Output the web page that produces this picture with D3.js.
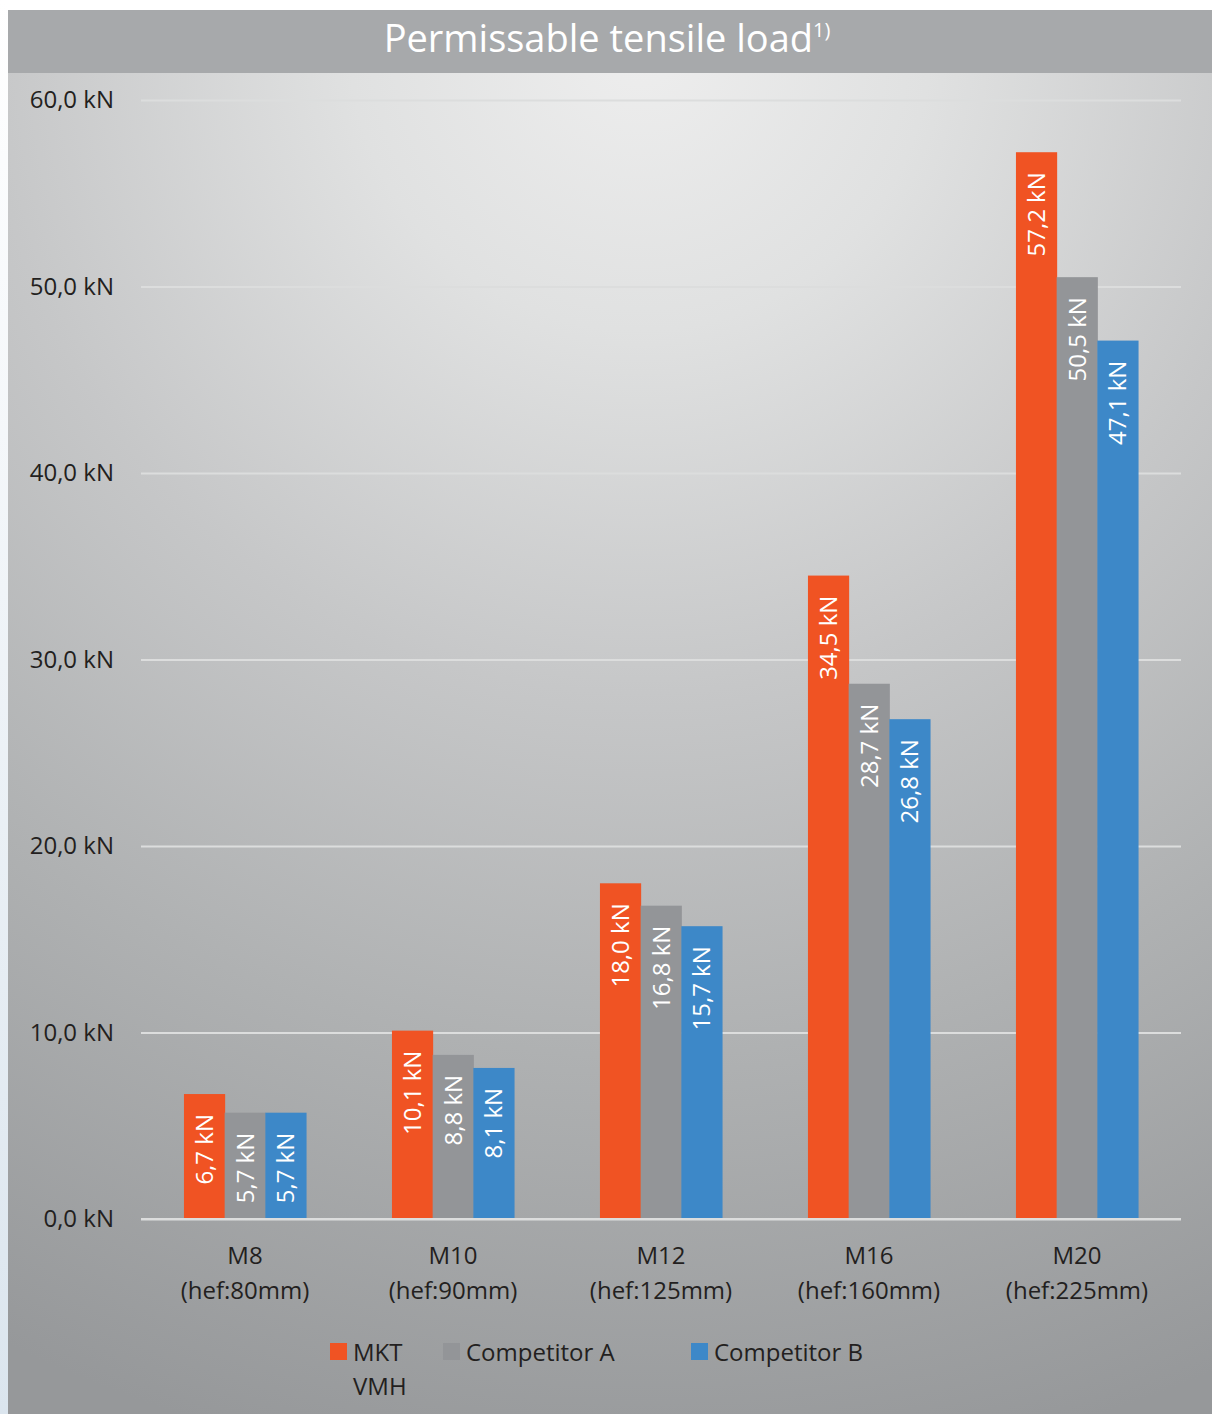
<!DOCTYPE html>
<html>
<head>
<meta charset="utf-8">
<script src="https://cdn.jsdelivr.net/npm/d3@7"></script>
<style>
  body { margin: 0; background: #fff; }
  svg { display: block; font-family: "Open Sans", "Noto Sans", sans-serif; }
</style>
</head>
<body>
<div id="chart"></div>
<script>
// data
const categories = ["M8", "M10", "M12", "M16", "M20"];
const subLabels = ["(hef:80mm)", "(hef:90mm)", "(hef:125mm)", "(hef:160mm)", "(hef:225mm)"];
const seriesNames = ["MKT VMH", "Competitor A", "Competitor B"];
const mktValues = [6.7, 10.1, 18.0, 34.5, 57.2];
const compAValues = [5.7, 8.8, 16.8, 28.7, 50.5];
const compBValues = [5.7, 8.1, 15.7, 26.8, 47.1];
const yTicks = [0, 10, 20, 30, 40, 50, 60];

const colors = ["#f05323", "#939598", "#3d88c8"];
const series = [mktValues, compAValues, compBValues];

const width = 1212, height = 1414;
const plot = { left: 141, right: 1181, top: 100, bottom: 1219 };

// decimal comma
const locale = d3.formatLocale({ decimal: ",", thousands: ".", grouping: [3], currency: ["", " €"] });
const fmt = v => locale.format(".1f")(v) + " kN";

const svg = d3.select("#chart").append("svg")
    .attr("width", width)
    .attr("height", height);

const defs = svg.append("defs");
const bg = defs.append("radialGradient")
    .attr("id", "bg")
    .attr("gradientUnits", "userSpaceOnUse")
    .attr("cx", 640).attr("cy", 40).attr("r", 1450);
bg.append("stop").attr("offset", 0).attr("stop-color", "#eeeeee");
bg.append("stop").attr("offset", 0.2).attr("stop-color", "#e0e1e1");
bg.append("stop").attr("offset", 0.45).attr("stop-color", "#c6c7c8");
bg.append("stop").attr("offset", 0.7).attr("stop-color", "#afb1b2");
bg.append("stop").attr("offset", 1).attr("stop-color", "#96989a");

const edge = defs.append("linearGradient")
    .attr("id", "edge").attr("x1", 0).attr("y1", 0).attr("x2", 0).attr("y2", 1);
edge.append("stop").attr("offset", 0).attr("stop-color", "#ffffff");
edge.append("stop").attr("offset", 1).attr("stop-color", "#dbe5ee");

// left page strip + chart background
svg.append("rect").attr("x", 0).attr("y", 0).attr("width", 8).attr("height", height).attr("fill", "url(#edge)");
svg.append("rect").attr("x", 8).attr("y", 73).attr("width", width - 8).attr("height", height - 73).attr("fill", "url(#bg)");

// title bar
svg.append("rect").attr("x", 8).attr("y", 10).attr("width", width - 8).attr("height", 63).attr("fill", "#a7a9ab");
const title = svg.append("text")
    .attr("x", 607).attr("y", 52)
    .attr("text-anchor", "middle")
    .attr("fill", "#ffffff")
    .style("font-size", "38px");
title.append("tspan").text("Permissable tensile load");
title.append("tspan").attr("dy", -15).style("font-size", "20px").text("1)");

// scales
const x0 = d3.scaleBand()
    .domain(categories)
    .range([plot.left, plot.right])
    .paddingInner(0.413)
    .paddingOuter(0.2065);

const x1 = d3.scaleBand()
    .domain(d3.range(seriesNames.length))
    .range([0, x0.bandwidth()]);

const y = d3.scaleLinear()
    .domain([0, 60])
    .range([plot.bottom, plot.top]);

// gridlines
const yAxis = d3.axisLeft(y)
    .tickValues(yTicks)
    .tickSize(-(plot.right - plot.left))
    .tickFormat(fmt)
    .tickPadding(27);

const gy = svg.append("g")
    .attr("transform", `translate(${plot.left},0)`)
    .call(yAxis);
gy.select(".domain").remove();
gy.selectAll(".tick line")
    .attr("stroke", "#dcdddd")
    .attr("stroke-width", 2);
gy.selectAll(".tick text")
    .attr("fill", "#231f20")
    .style("font-size", "24px")
    .style("font-family", "'Open Sans', sans-serif");

// bars
const groups = svg.append("g").selectAll("g")
    .data(categories)
    .join("g")
    .attr("transform", d => `translate(${x0(d)},0)`);

groups.each(function(cat, ci) {
    const g = d3.select(this);
    series.forEach((vals, si) => {
        const v = vals[ci];
        g.append("rect")
            .attr("x", x1(si))
            .attr("y", y(v))
            .attr("width", x1.bandwidth() + 0.5)
            .attr("height", y(0) - y(v))
            .attr("fill", colors[si]);
        const cx = x1(si) + x1.bandwidth() / 2;
        g.append("text")
            .attr("transform", `translate(${cx},${y(v) + 20}) rotate(-90)`)
            .attr("text-anchor", "end")
            .attr("dy", "0.36em")
            .attr("fill", "#ffffff")
            .style("font-size", "24px")
            .text(fmt(v));
    });
});

// baseline over bars
svg.append("line")
    .attr("x1", plot.left).attr("x2", plot.right)
    .attr("y1", y(0)).attr("y2", y(0))
    .attr("stroke", "#dcdddd")
    .attr("stroke-width", 2);

// category labels
const catLabels = svg.append("g").selectAll("text")
    .data(categories)
    .join("text")
    .attr("x", d => x0(d) + x0.bandwidth() / 2)
    .attr("text-anchor", "middle")
    .attr("fill", "#231f20")
    .style("font-size", "24px");
catLabels.append("tspan")
    .attr("x", d => x0(d) + x0.bandwidth() / 2)
    .attr("y", 1264)
    .text(d => d);
catLabels.append("tspan")
    .attr("x", d => x0(d) + x0.bandwidth() / 2)
    .attr("y", 1299)
    .text((d, i) => subLabels[i]);

// legend
const legendX = [330, 443, 691];
const legend = svg.append("g").selectAll("g")
    .data(seriesNames)
    .join("g")
    .attr("transform", (d, i) => `translate(${legendX[i]},1343)`);
legend.append("rect")
    .attr("width", 17).attr("height", 17)
    .attr("fill", (d, i) => colors[i]);
legend.append("text")
    .attr("x", 23).attr("y", 18)
    .attr("fill", "#231f20")
    .style("font-size", "24px")
    .each(function(d) {
        const words = d === "MKT VMH" ? ["MKT", "VMH"] : [d];
        words.forEach((w, k) => {
            d3.select(this).append("tspan")
                .attr("x", 23)
                .attr("dy", k === 0 ? 0 : 34)
                .text(w);
        });
    });
</script>
</body>
</html>
